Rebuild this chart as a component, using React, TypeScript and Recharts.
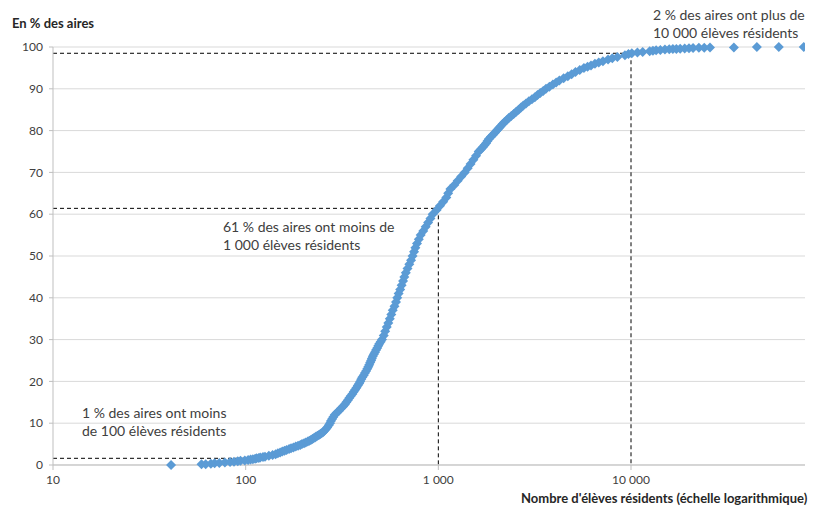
import {
  ScatterChart,
  Scatter,
  XAxis,
  YAxis,
  CartesianGrid,
  ReferenceLine,
} from "recharts";

// nombre d'élèves résidents (lecture sur le graphique)
const eleves = [
  41, 59, 62, 66, 69, 73, 78, 83, 87, 91, 94, 99, 103, 106, 109, 112, 114, 117,
  119, 123, 126, 132, 138, 143, 147, 151, 155, 159, 163, 168, 172, 177, 182,
  187, 192, 196, 201, 205, 210, 214, 218, 222, 225, 229, 232, 236, 240, 244,
  247, 251, 254, 260, 265, 270, 274, 277, 281, 285, 290, 297, 305, 312, 320,
  327, 333, 339, 345, 351, 358, 364, 370, 376, 382, 388, 393, 398, 403, 410,
  416, 422, 428, 433, 438, 443, 448, 452, 457, 463, 469, 475, 482, 488, 494,
  502, 510, 521, 530, 540, 550, 560, 570, 580, 592, 603, 612, 622, 634, 645,
  656, 666, 678, 692, 707, 722, 735, 748, 760, 775, 792, 810, 835, 860, 885,
  910, 935, 980, 1020, 1060, 1100, 1125, 1155, 1210, 1260, 1315, 1370, 1420,
  1470, 1520, 1570, 1620, 1660, 1700, 1735, 1770, 1800, 1830, 1875, 1920, 1965,
  2010, 2055, 2100, 2150, 2200, 2260, 2320, 2390, 2460, 2535, 2610, 2685, 2760,
  2850, 2950, 3060, 3170, 3270, 3380, 3500, 3620, 3770, 3930, 4090, 4250, 4470,
  4700, 4920, 5150, 5420, 5700, 5950, 6200, 6500, 6800, 7150, 7600, 8000, 8500,
  9300, 9700, 10100, 10800, 11500, 12500, 13000, 13500, 14200, 15000, 15800,
  16500, 17200, 18000, 19000, 20000, 21000, 22500, 24000, 25700, 34200, 45000,
  58500, 78800,
];

// part cumulée des aires, en %
const pctAires = [
  0, 0.2, 0.2, 0.3, 0.4, 0.5, 0.6, 0.7, 0.8, 0.9, 1.0, 1.1, 1.2, 1.3, 1.4, 1.5,
  1.6, 1.7, 1.8, 1.9, 2.0, 2.2, 2.4, 2.6, 2.8, 3.0, 3.2, 3.4, 3.6, 3.8, 4.0,
  4.2, 4.4, 4.6, 4.8, 5.0, 5.2, 5.4, 5.6, 5.8, 6.0, 6.2, 6.4, 6.6, 6.8, 7.0,
  7.2, 7.4, 7.6, 7.8, 8.0, 8.5, 9.0, 9.5, 10, 10.5, 11, 11.5, 12, 12.5, 13,
  13.5, 14, 14.5, 15, 15.5, 16, 16.5, 17, 17.5, 18, 18.5, 19, 19.5, 20, 20.5,
  21, 21.5, 22, 22.5, 23, 23.5, 24, 24.5, 25, 25.5, 26, 26.5, 27, 27.5, 28,
  28.5, 29, 29.5, 30, 31, 32, 33, 34, 35, 36, 37, 38, 39, 40, 41, 42, 43, 44,
  45, 46, 47, 48, 49, 50, 51, 52, 53, 54, 55, 56, 57, 58, 59, 60, 61, 62, 63,
  64, 65, 66, 67, 68, 69, 70, 71, 72, 73, 74, 75, 75.5, 76, 76.5, 77, 77.5, 78,
  78.5, 79, 79.5, 80, 80.5, 81, 81.5, 82, 82.5, 83, 83.5, 84, 84.5, 85, 85.5,
  86, 86.5, 87, 87.5, 88, 88.5, 89, 89.5, 90, 90.5, 91, 91.5, 92, 92.5, 93,
  93.5, 94, 94.5, 95, 95.3, 95.6, 96, 96.3, 96.6, 97, 97.3, 97.6, 98, 98.3,
  98.5, 98.7, 98.8, 99.0, 99.1, 99.2, 99.3, 99.4, 99.45, 99.5, 99.55, 99.6,
  99.65, 99.7, 99.75, 99.8, 99.85, 99.9, 99.9, 100, 100, 100,
];

const xTicks = [10, 100, 1000, 10000];
const yTicks = [0, 10, 20, 30, 40, 50, 60, 70, 80, 90, 100];

// seuils repérés en pointillés : [élèves, % des aires]
const seuils = [
  [100, 1.6],
  [1000, 61.4],
  [10000, 98.5],
];

const data = eleves.map((x, i) => ({ x, y: pctAires[i] }));

const BLUE = "#5B9BD5";
const AXIS = "#bfbfbf";
const TEXT = "#404040";
const FONT = "Lato, 'Open Sans', sans-serif";

const fmt = (v: number) => v.toLocaleString("fr-FR").replace(/\s/g, " ");

const Diamond = (p: any) => {
  const { cx, cy } = p;
  const r = 5;
  return (
    <path
      d={`M${cx},${cy - r}L${cx + r},${cy}L${cx},${cy + r}L${cx - r},${cy}Z`}
      fill={BLUE}
    />
  );
};

const note = (
  top: number,
  left: number,
  lines: string[],
  bold = false,
  size = 14
) => (
  <div
    style={{
      position: "absolute",
      top,
      left,
      fontFamily: FONT,
      fontSize: size,
      fontWeight: bold ? 700 : 400,
      lineHeight: "18px",
      color: bold ? "#262626" : TEXT,
      whiteSpace: "pre",
    }}
  >
    {lines.map((l) => (
      <div key={l}>{l}</div>
    ))}
  </div>
);

const App = () => {
  return (
    <div
      style={{
        position: "absolute",
        left: 0,
        top: 0,
        width: 816,
        height: 512,
        background: "#fff",
      }}
    >
      <ScatterChart
        width={816}
        height={512}
        margin={{ top: 47, right: 11, left: 0, bottom: 0 }}
      >
        <CartesianGrid vertical={false} stroke="#d9d9d9" />
        <XAxis
          type="number"
          dataKey="x"
          scale="log"
          domain={[10, 80000]}
          ticks={xTicks}
          tickFormatter={fmt}
          allowDataOverflow
          height={47}
          stroke={AXIS}
          tickSize={5}
          tickMargin={5}
          tick={{ fill: TEXT, fontSize: 12, fontFamily: FONT }}
        />
        <YAxis
          type="number"
          dataKey="y"
          domain={[0, 100]}
          ticks={yTicks}
          width={53}
          stroke={AXIS}
          tickSize={4}
          tickMargin={6}
          tick={{ fill: TEXT, fontSize: 12, fontFamily: FONT }}
        />
        {seuils.map(([x, y]) => (
          <ReferenceLine
            key={`h${x}`}
            segment={[
              { x: 10, y },
              { x, y },
            ]}
            stroke="#000"
            strokeDasharray="4 3"
            ifOverflow="visible"
          />
        ))}
        {seuils
          .filter(([x]) => x > 100)
          .map(([x, y]) => (
            <ReferenceLine
              key={`v${x}`}
              segment={[
                { x, y },
                { x, y: 0 },
              ]}
              stroke="#000"
              strokeDasharray="4 3"
              ifOverflow="visible"
            />
          ))}
        <Scatter data={data} shape={Diamond} isAnimationActive={false} />
      </ScatterChart>
      {note(14, 12, ["En % des aires"], true, 13)}
      {note(6, 653, ["2 % des aires ont plus de", "10 000 élèves résidents"])}
      {note(218, 223, ["61 % des aires ont moins de", "1 000 élèves résidents"])}
      {note(404, 82, ["1 % des aires ont moins", "de 100 élèves résidents"])}
      {note(
        489,
        521,
        ["Nombre d'élèves résidents (échelle logarithmique)"],
        true,
        13
      )}
    </div>
  );
};

export default App;
